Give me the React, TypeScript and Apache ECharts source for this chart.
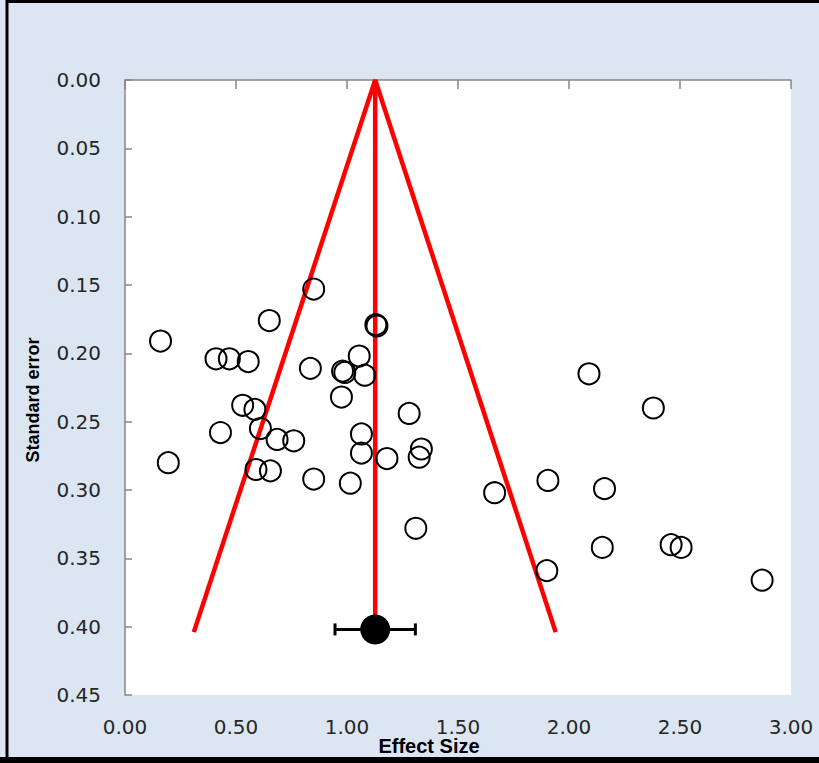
import React, { useEffect, useRef } from "react";
import * as echarts from "echarts";

const effectSizes = [0.85, 0.65, 1.13, 1.135, 0.16, 0.41, 0.47, 0.555, 1.055, 0.835, 0.98, 0.99, 1.08, 2.09, 0.975, 0.53, 0.585, 2.38, 1.28, 0.61, 0.43, 1.065, 0.685, 0.76, 1.335, 1.065, 1.325, 0.195, 1.18, 0.59, 0.655, 0.85, 1.015, 1.905, 2.16, 1.665, 1.31, 2.15, 2.46, 2.505, 1.9, 2.87];
const standardErrors = [0.153, 0.176, 0.179, 0.18, 0.191, 0.204, 0.204, 0.206, 0.202, 0.211, 0.213, 0.214, 0.216, 0.215, 0.232, 0.238, 0.241, 0.24, 0.244, 0.255, 0.258, 0.259, 0.263, 0.264, 0.27, 0.273, 0.276, 0.28, 0.277, 0.285, 0.286, 0.292, 0.295, 0.293, 0.299, 0.302, 0.328, 0.342, 0.34, 0.342, 0.359, 0.366];

const pooledEffect = 1.127;
const pooledSE = 0.402;
const ciLow = 0.946;
const ciHigh = 1.308;
const funnelLeftX = 0.31;
const funnelRightX = 1.94;
const funnelBottomSE = 0.404;

const xTicks = { min: 0, max: 3, interval: 0.5 };
const yTicks = { min: 0, max: 0.45, interval: 0.05 };

export default function App() {
  const ref = useRef<HTMLDivElement>(null);
  useEffect(() => {
    if (!ref.current) return;
    const chart = echarts.init(ref.current, null, { renderer: "svg" });
    const axisGray = "#868686";
    const labelColor = "#262626";
    const points = effectSizes.map((x, i) => [x, standardErrors[i]]);
    chart.setOption({
      animation: false,
      backgroundColor: "#dce6f2",
      grid: { left: 125, top: 80, right: 28, bottom: 68, show: true, backgroundColor: "#ffffff", borderWidth: 0 },
      xAxis: [
        {
          type: "value", position: "bottom", ...xTicks,
          axisLine: { show: false }, axisTick: { show: false }, splitLine: { show: false },
          axisLabel: { margin: 22, color: labelColor, fontFamily: "DejaVu Sans", fontSize: 20, formatter: (v: number) => v.toFixed(2) },
        },
        {
          type: "value", position: "top", ...xTicks,
          axisLine: { show: true, lineStyle: { color: axisGray, width: 1.5 } },
          axisTick: { show: true, inside: true, length: 9, lineStyle: { color: axisGray, width: 1.5 } },
          axisLabel: { show: false }, splitLine: { show: false },
        },
      ],
      yAxis: {
        type: "value", inverse: true, ...yTicks,
        axisLine: { show: true, lineStyle: { color: axisGray, width: 1.5 } },
        axisTick: { show: true, inside: true, length: 7, lineStyle: { color: axisGray, width: 1.5 } },
        splitLine: { show: false },
        axisLabel: { margin: 24, color: labelColor, fontFamily: "DejaVu Sans", fontSize: 20, formatter: (v: number) => v.toFixed(2) },
      },
      series: [
        {
          type: "line", data: [[funnelLeftX, funnelBottomSE], [pooledEffect, 0], [funnelRightX, funnelBottomSE]],
          symbol: "none", lineStyle: { color: "#ff0000", width: 4.5 }, z: 2,
        },
        {
          type: "line", data: [[pooledEffect, 0], [pooledEffect, pooledSE]],
          symbol: "none", lineStyle: { color: "#ff0000", width: 4.5 }, z: 2,
        },
        {
          type: "line", data: [[ciLow, pooledSE], [ciHigh, pooledSE]],
          symbol: "none", lineStyle: { color: "#000", width: 3 }, z: 3,
        },
        {
          type: "scatter", data: [[ciLow, pooledSE], [ciHigh, pooledSE]],
          symbol: "rect", symbolSize: [3, 12], itemStyle: { color: "#000", opacity: 1 }, z: 3,
        },
        {
          type: "scatter", data: [[pooledEffect, pooledSE]],
          symbol: "circle", symbolSize: 30, itemStyle: { color: "#000", opacity: 1 }, z: 4,
        },
        {
          type: "scatter", data: points, symbol: "circle", symbolSize: 21,
          itemStyle: { color: "rgba(0,0,0,0)", borderColor: "#000", borderWidth: 2, opacity: 1 }, z: 5,
        },
      ],
      graphic: [
        {
          type: "text", x: 33, y: 400, rotation: Math.PI / 2,
          style: { text: "Standard error", fontFamily: "Liberation Sans", fontWeight: "bold", fontSize: 18, fill: "#000", align: "center", verticalAlign: "middle" },
        },
        {
          type: "text", x: 429, y: 746,
          style: { text: "Effect Size", fontFamily: "Liberation Sans", fontWeight: "bold", fontSize: 20, fill: "#000", align: "center", verticalAlign: "middle" },
        },
        {
          type: "rect", shape: { x: 7, y: 1.5, width: 900, height: 757 },
          style: { fill: "none", stroke: "#000", lineWidth: 3 }, silent: true,
        },
        {
          type: "rect", shape: { x: 0, y: 757, width: 819, height: 6 },
          style: { fill: "#000" }, silent: true,
        },
      ],
    });
    return () => chart.dispose();
  }, []);
  return <div ref={ref} style={{ position: "fixed", left: 0, top: 0, width: 819, height: 763 }} />;
}
